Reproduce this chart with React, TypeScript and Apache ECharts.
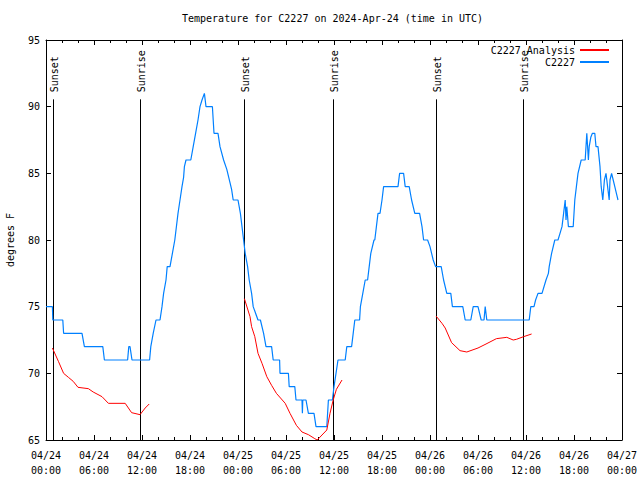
import React, { useEffect, useRef } from "react";
import * as echarts from "echarts";

const FONT = '"DejaVu Sans Mono", "Liberation Mono", monospace';

const chartTitle = "Temperature for C2227 on 2024-Apr-24 (time in UTC)";
const yAxisName = "degrees F";

// x axis: hours since 2024-04-24 00:00 UTC
const xTickLabels = [
  "04/24\n00:00", "04/24\n06:00", "04/24\n12:00", "04/24\n18:00",
  "04/25\n00:00", "04/25\n06:00", "04/25\n12:00", "04/25\n18:00",
  "04/26\n00:00", "04/26\n06:00", "04/26\n12:00", "04/26\n18:00",
  "04/27\n00:00",
];

const sunHours = [0.91, 11.79, 24.79, 35.84, 48.79, 59.66];
const sunLabels = ["Sunset", "Sunrise", "Sunset", "Sunrise", "Sunset", "Sunrise"];

// Observations (C2227): [hour, degF]
const observed: [number, number][] = [
  [0, 75], [0.8, 75], [0.85, 74], [2.1, 74], [2.2, 73], [4.5, 73], [4.8, 72], [7.1, 72],
  [7.3, 71], [10.2, 71], [10.35, 72], [10.5, 72], [10.75, 71], [12.95, 71], [13.1, 72],
  [13.4, 73], [13.75, 74], [14.25, 74], [14.5, 75], [14.7, 76], [15.0, 77], [15.15, 78],
  [15.5, 78], [15.8, 79], [16.1, 80], [16.5, 82], [16.75, 83], [17.0, 84], [17.2, 84.7],
  [17.3, 85.5], [17.5, 86], [18.1, 86], [18.4, 87], [18.7, 88], [19.0, 89], [19.25, 90],
  [19.5, 90.5], [19.8, 91], [20.0, 90], [20.8, 90], [21.0, 88], [21.5, 88], [21.75, 87],
  [22.2, 86], [22.6, 85.3], [23.0, 84.3], [23.2, 83.8], [23.4, 83], [24.0, 83], [24.3, 82],
  [24.5, 81], [24.7, 80], [24.9, 79], [25.2, 78], [25.4, 77], [25.7, 76], [25.9, 75],
  [26.5, 74], [26.8, 74], [27.2, 73], [27.5, 72], [28.2, 72], [28.4, 71], [29.2, 71],
  [29.25, 70], [30.3, 70], [30.4, 69], [31.1, 69], [31.25, 68], [32.0, 68], [32.05, 67],
  [32.1, 68], [32.5, 68], [32.8, 67], [33.5, 67], [33.75, 66], [35.1, 66], [35.3, 68],
  [35.8, 68], [36.0, 69], [36.25, 70], [36.5, 71], [37.4, 71], [37.6, 72], [38.2, 72],
  [38.4, 73], [38.6, 74], [39.2, 74], [39.3, 75], [39.6, 76], [39.9, 77], [40.2, 77],
  [40.4, 78], [40.6, 79], [41.0, 80], [41.1, 80], [41.3, 81], [41.5, 82], [41.75, 82],
  [42.0, 83], [42.2, 84], [44.0, 84], [44.2, 85], [44.7, 85], [44.9, 84], [45.4, 84],
  [45.7, 83], [46.1, 82], [46.7, 82], [47.0, 81], [47.2, 80], [47.7, 80], [48.0, 79.5],
  [48.2, 79], [48.4, 78.5], [48.7, 78], [49.4, 78], [49.7, 77], [50.1, 76], [50.6, 76],
  [50.8, 75], [52.1, 75], [52.4, 74], [53.1, 74], [53.4, 75], [54.0, 75], [54.4, 74],
  [54.75, 74], [54.9, 75], [55.1, 74], [60.4, 74], [60.6, 75], [61.0, 75], [61.2, 75.5],
  [61.5, 76], [62.0, 76], [62.5, 77], [62.8, 77.5], [62.9, 78], [63.2, 79], [63.6, 80],
  [64.0, 80], [64.25, 80.5], [64.5, 81], [64.7, 82], [64.9, 83], [65.0, 81.5], [65.1, 82.5],
  [65.3, 81], [65.9, 81], [66.1, 83], [66.3, 84], [66.5, 85], [66.9, 86], [67.4, 86],
  [67.6, 88], [67.8, 86], [67.9, 87], [68.1, 87.7], [68.3, 88], [68.6, 88], [68.75, 87],
  [69.0, 87], [69.25, 85.5], [69.4, 84], [69.6, 83], [69.8, 84.5], [70.0, 85], [70.2, 84],
  [70.4, 83], [70.5, 84.5], [70.7, 85], [70.9, 84.5], [71.1, 84], [71.3, 83.5], [71.5, 83],
];

// Analysis (C2227 Analysis), three nightly segments: [hour, degF]
const analysisNight1: [number, number][] = [
  [0.8, 71.9], [1.55, 70.9], [2.2, 70.0], [2.8, 69.7], [3.4, 69.4], [4.0, 68.95],
  [5.3, 68.85], [5.9, 68.6], [7.0, 68.25], [7.8, 67.75], [9.9, 67.75], [10.7, 67.05],
  [11.75, 66.9], [12.4, 67.4], [12.9, 67.7],
];
const analysisNight2: [number, number][] = [
  [24.8, 75.6], [25.5, 74.25], [25.7, 73.5], [26.1, 72.75], [26.5, 71.5], [27.0, 70.75],
  [27.6, 69.75], [28.2, 69.1], [28.8, 68.5], [29.9, 67.75], [30.5, 67.0], [31.3, 66.1],
  [32.0, 65.6], [32.8, 65.4], [33.6, 65.1], [33.9, 65.0], [35.1, 65.75], [35.5, 67.0],
  [35.9, 68.0], [36.3, 68.8], [37.0, 69.5],
];
const analysisNight3: [number, number][] = [
  [48.75, 74.3], [49.5, 73.75], [49.9, 73.4], [50.7, 72.3], [51.75, 71.7], [52.6, 71.6],
  [54.0, 71.9], [55.0, 72.2], [56.3, 72.6], [57.6, 72.7], [58.4, 72.5], [58.8, 72.55],
  [59.7, 72.75], [60.7, 72.95],
];

const RED = "#ff0000";
const BLUE = "#0080ff";

export default function App() {
  const ref = useRef<HTMLDivElement>(null);

  useEffect(() => {
    if (!ref.current) return;
    const chart = echarts.init(ref.current, null, { renderer: "svg" });

    const analysis: any[] = [
      ...analysisNight1,
      [18, "-"],
      ...analysisNight2,
      [42, "-"],
      ...analysisNight3,
    ];

    const baseX = {
      type: "value",
      min: 0,
      max: 72,
      interval: 6,
      axisLine: { show: true, onZero: false, lineStyle: { color: "#000", width: 1 } },
      axisTick: { show: true, inside: true, length: 5, lineStyle: { color: "#000" } },
      minorTick: { show: true, splitNumber: 3, length: 3, lineStyle: { color: "#000" } },
      splitLine: { show: false },
    };
    const baseY = {
      type: "value",
      min: 65,
      max: 95,
      interval: 5,
      axisLine: { show: true, onZero: false, lineStyle: { color: "#000", width: 1 } },
      axisTick: { show: true, inside: true, length: 5, lineStyle: { color: "#000" } },
      splitLine: { show: false },
    };

    chart.setOption({
      animation: false,
      backgroundColor: "#fff",
      title: {
        text: chartTitle,
        left: 182,
        top: 13,
        padding: 0,
        textStyle: { fontFamily: FONT, fontSize: 10, fontWeight: "normal", color: "#000" },
      },
      legend: {
        data: ["C2227 Analysis", "C2227"],
        orient: "vertical",
        align: "right",
        right: 30,
        top: 45,
        padding: 0,
        itemWidth: 29,
        itemHeight: 10,
        itemGap: 2,
        itemStyle: { opacity: 0 },
        textStyle: { fontFamily: FONT, fontSize: 10, color: "#000" },
        selectedMode: false,
      },
      grid: {
        left: 46,
        right: 18,
        top: 40,
        bottom: 40,
        containLabel: false,
        outerBoundsMode: "none",
      },
      xAxis: [
        {
          ...baseX,
          position: "bottom",
          axisLabel: {
            formatter: (v: number) => xTickLabels[Math.round(v / 6)] ?? "",
            fontFamily: FONT,
            fontSize: 10,
            color: "#000",
            lineHeight: 15,
            margin: 8,
          },
        },
        { ...baseX, position: "top", axisLabel: { show: false } },
      ],
      yAxis: [
        {
          ...baseY,
          position: "left",
          name: yAxisName,
          nameLocation: "middle",
          nameGap: 31,
          nameTextStyle: { fontFamily: FONT, fontSize: 10, color: "#000" },
          axisLabel: { fontFamily: FONT, fontSize: 10, color: "#000", margin: 6 },
        },
        { ...baseY, position: "right", axisLabel: { show: false } },
      ],
      series: [
        {
          type: "custom",
          silent: true,
          xAxisIndex: 0,
          yAxisIndex: 0,
          data: sunHours.map((h, i) => [h, i]),
          z: 1,
          renderItem: (params: any, api: any) => {
            const h = api.value(0);
            const top = api.coord([h, 90.55]);
            const bot = api.coord([h, 65]);
            const x = Math.round(top[0]) + 0.5;
            return {
              type: "group",
              children: [
                {
                  type: "line",
                  shape: { x1: x, y1: top[1], x2: x, y2: bot[1] },
                  style: { stroke: "#000", lineWidth: 1 },
                },
                {
                  type: "text",
                  x: x + 1,
                  y: top[1] - 7,
                  rotation: Math.PI / 2,
                  style: {
                    text: sunLabels[params.dataIndex],
                    fill: "#000",
                    font: `10px ${FONT}`,
                    align: "left",
                    verticalAlign: "middle",
                    textAlign: "left",
                    textVerticalAlign: "middle",
                  },
                },
              ],
            };
          },
        },
        {
          name: "C2227 Analysis",
          type: "line",
          data: analysis,
          symbol: "none",
          connectNulls: false,
          lineStyle: { color: RED, width: 1 },
          itemStyle: { color: RED },
          z: 3,
        },
        {
          name: "C2227",
          type: "line",
          data: observed,
          symbol: "none",
          lineStyle: { color: BLUE, width: 1.2 },
          itemStyle: { color: BLUE },
          z: 2,
        },
      ],
    });

    return () => chart.dispose();
  }, []);

  return (
    <div
      ref={ref}
      style={{ position: "absolute", left: 0, top: 0, width: 640, height: 480, background: "#fff" }}
    />
  );
}
